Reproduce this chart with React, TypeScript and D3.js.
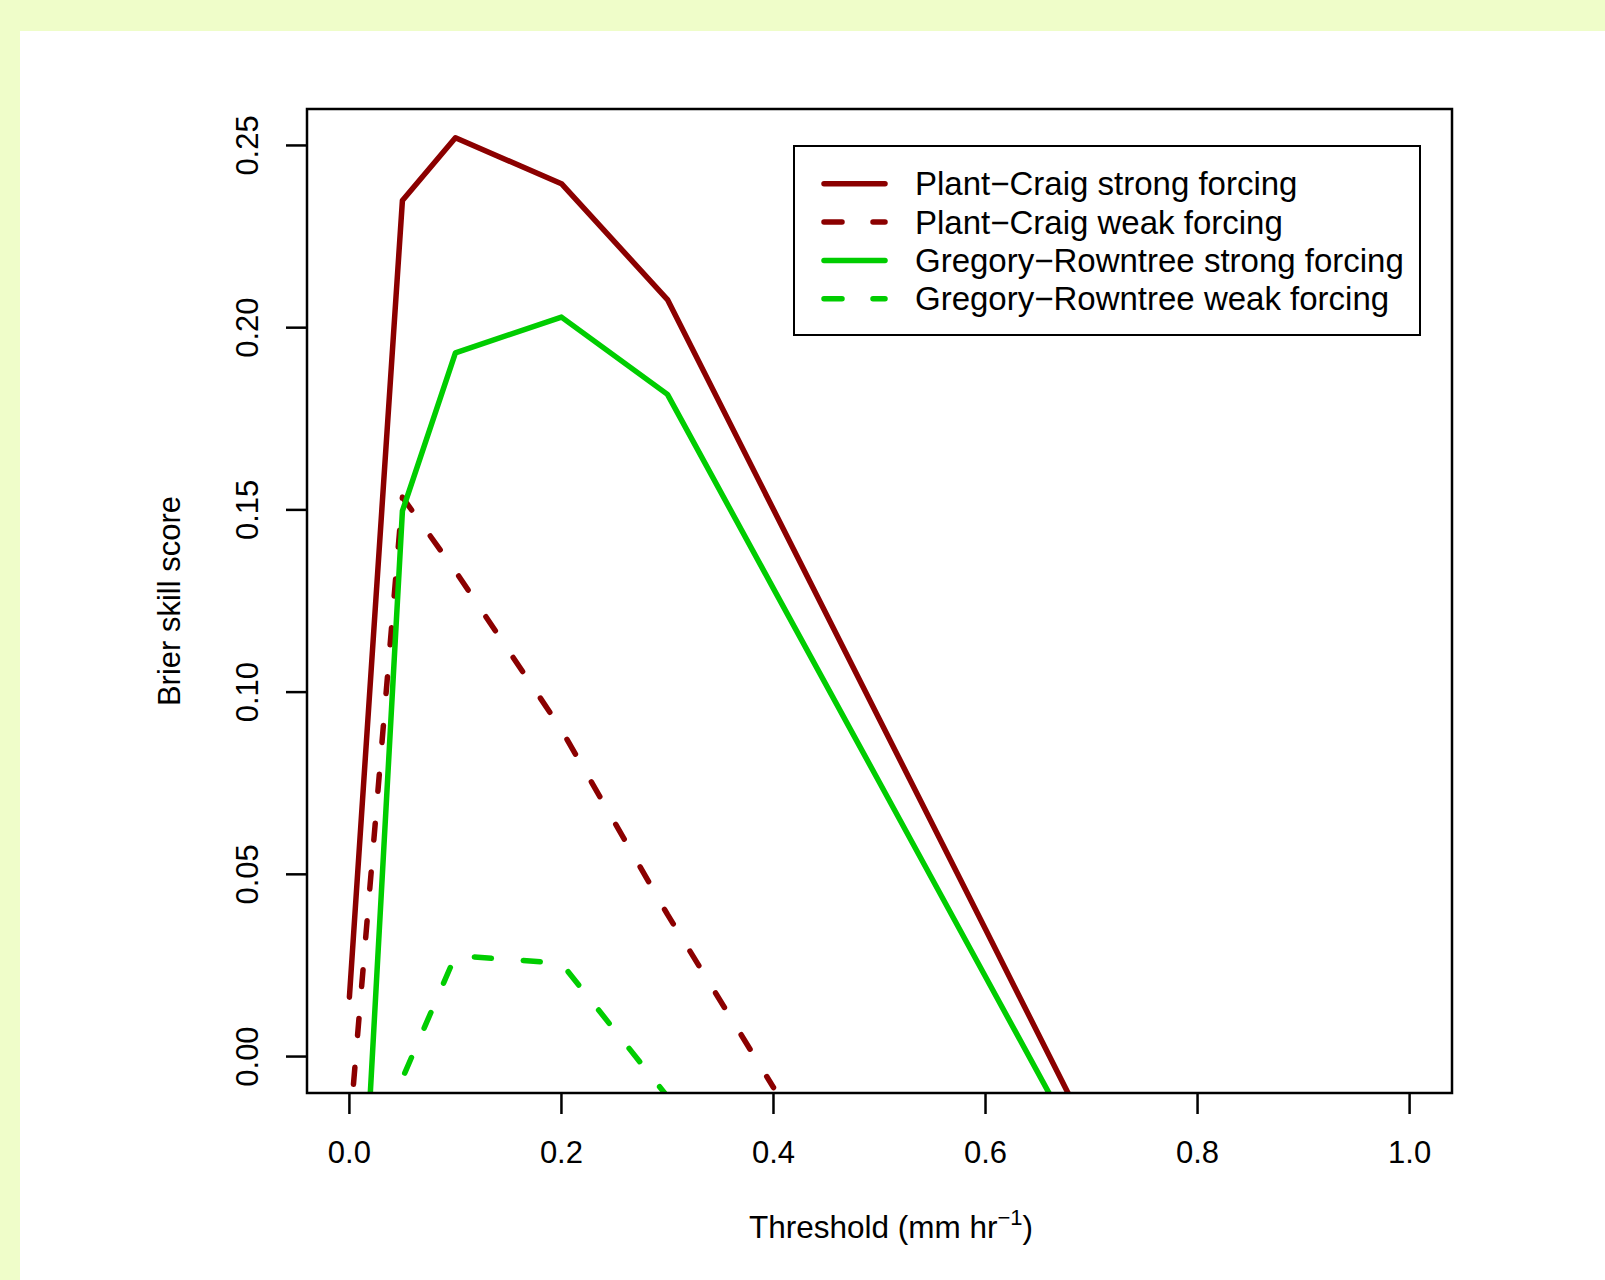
import * as d3 from "d3";
import { useEffect } from "react";

// chart data
const thresholds = [0, 0.05, 0.1, 0.2, 0.3, 0.4, 0.5, 0.6, 0.7];
const pcStrong = [0.0163, 0.2349, 0.2521, 0.2395, 0.2077, 0.1501, 0.0925, 0.0349, -0.0228];
const grStrong = [-0.114, 0.1497, 0.1931, 0.2029, 0.1817, 0.1284, 0.0752, 0.0219, -0.0314];
const pcWeak = [-0.021, 0.1535, 0.1332, 0.0897, 0.039, -0.0085];
const grWeak = [-0.07, -0.006, 0.0277, 0.0256, -0.011];

const xTicks = [0, 0.2, 0.4, 0.6, 0.8, 1.0];
const xTickLabels = ["0.0", "0.2", "0.4", "0.6", "0.8", "1.0"];
const yTicks = [0, 0.05, 0.1, 0.15, 0.2, 0.25];
const yTickLabels = ["0.00", "0.05", "0.10", "0.15", "0.20", "0.25"];

const seriesNames = [
  "Plant\u2212Craig strong forcing",
  "Plant\u2212Craig weak forcing",
  "Gregory\u2212Rowntree strong forcing",
  "Gregory\u2212Rowntree weak forcing",
];

const DARKRED = "#8b0000";
const GREEN = "#00cd00";
const DASH = "17,32";

// canvas / plot box
const W = 1605;
const H = 1280;
const boxLeft = 307;
const boxRight = 1452;
const boxTop = 109;
const boxBottom = 1093;
const font = "'Liberation Sans', Arial, sans-serif";

const App = () => {
  useEffect(() => {
    document.body.style.margin = "0";
  }, []);

  // R style 4% extended ranges
  const x = d3.scaleLinear().domain([-0.04, 1.04]).range([boxLeft, boxRight]);
  const y = d3.scaleLinear().domain([-0.01, 0.26]).range([boxBottom, boxTop]);

  const line = d3
    .line<[number, number]>()
    .x((d) => x(d[0]))
    .y((d) => y(d[1]));

  const series = [
    { values: pcStrong, color: DARKRED, dash: null },
    { values: pcWeak, color: DARKRED, dash: DASH },
    { values: grStrong, color: GREEN, dash: null },
    { values: grWeak, color: GREEN, dash: DASH },
  ];

  // legend box
  const legLeft = 794;
  const legRight = 1420;
  const legTop = 146;
  const legBottom = 335;
  const rowY0 = 183.8;
  const rowStep = 38.3;

  return (
    <svg width={W} height={H} style={{ display: "block" }}>
      <rect x={0} y={0} width={W} height={H} fill="#effdc9" />
      <rect x={20} y={31} width={W - 20} height={H - 31} fill="#ffffff" />

      <defs>
        <clipPath id="plotClip">
          <rect x={boxLeft} y={boxTop} width={boxRight - boxLeft} height={boxBottom - boxTop} />
        </clipPath>
      </defs>

      {/* data lines */}
      <g clipPath="url(#plotClip)">
        {series.map((s, i) => (
          <path
            key={i}
            d={line(s.values.map((v, j) => [thresholds[j], v]) as [number, number][]) || ""}
            fill="none"
            stroke={s.color}
            strokeWidth={5.5}
            strokeLinecap="round"
            strokeLinejoin="round"
            strokeDasharray={s.dash || undefined}
          />
        ))}
      </g>

      {/* plot frame */}
      <rect
        x={boxLeft}
        y={boxTop}
        width={boxRight - boxLeft}
        height={boxBottom - boxTop}
        fill="none"
        stroke="#000"
        strokeWidth={2.5}
      />

      {/* x axis */}
      {xTicks.map((t, i) => (
        <g key={"xt" + i}>
          <line x1={x(t)} x2={x(t)} y1={boxBottom} y2={boxBottom + 21} stroke="#000" strokeWidth={2.5} />
          <text x={x(t)} y={1163} textAnchor="middle" fontFamily={font} fontSize={31} fill="#000">
            {xTickLabels[i]}
          </text>
        </g>
      ))}

      {/* y axis */}
      {yTicks.map((t, i) => (
        <g key={"yt" + i}>
          <line x1={boxLeft - 21} x2={boxLeft} y1={y(t)} y2={y(t)} stroke="#000" strokeWidth={2.5} />
          <text
            transform={`translate(258,${y(t)}) rotate(-90)`}
            textAnchor="middle"
            fontFamily={font}
            fontSize={31}
            fill="#000"
          >
            {yTickLabels[i]}
          </text>
        </g>
      ))}

      {/* axis titles */}
      <text x={891} y={1238} textAnchor="middle" fontFamily={font} fontSize={31.5} fill="#000">
        Threshold (mm hr
        <tspan fontSize={22} dy={-13}>
          {"\u22121"}
        </tspan>
        <tspan dy={13}>)</tspan>
      </text>
      <text
        transform={`translate(180,${(boxTop + boxBottom) / 2}) rotate(-90)`}
        textAnchor="middle"
        fontFamily={font}
        fontSize={31}
        fill="#000"
      >
        Brier skill score
      </text>

      {/* legend */}
      <rect
        x={legLeft}
        y={legTop}
        width={legRight - legLeft}
        height={legBottom - legTop}
        fill="#fff"
        stroke="#000"
        strokeWidth={2}
      />
      {seriesNames.map((name, i) => {
        const ry = rowY0 + i * rowStep;
        const s = series[i];
        return (
          <g key={"lg" + i}>
            <line
              x1={824}
              x2={885}
              y1={ry}
              y2={ry}
              stroke={s.color}
              strokeWidth={5.5}
              strokeLinecap="round"
              strokeDasharray={s.dash ? "18,31" : undefined}
            />
            <text x={915} y={ry + 11.5} fontFamily={font} fontSize={33} fill="#000">
              {name}
            </text>
          </g>
        );
      })}
    </svg>
  );
};

export default App;
